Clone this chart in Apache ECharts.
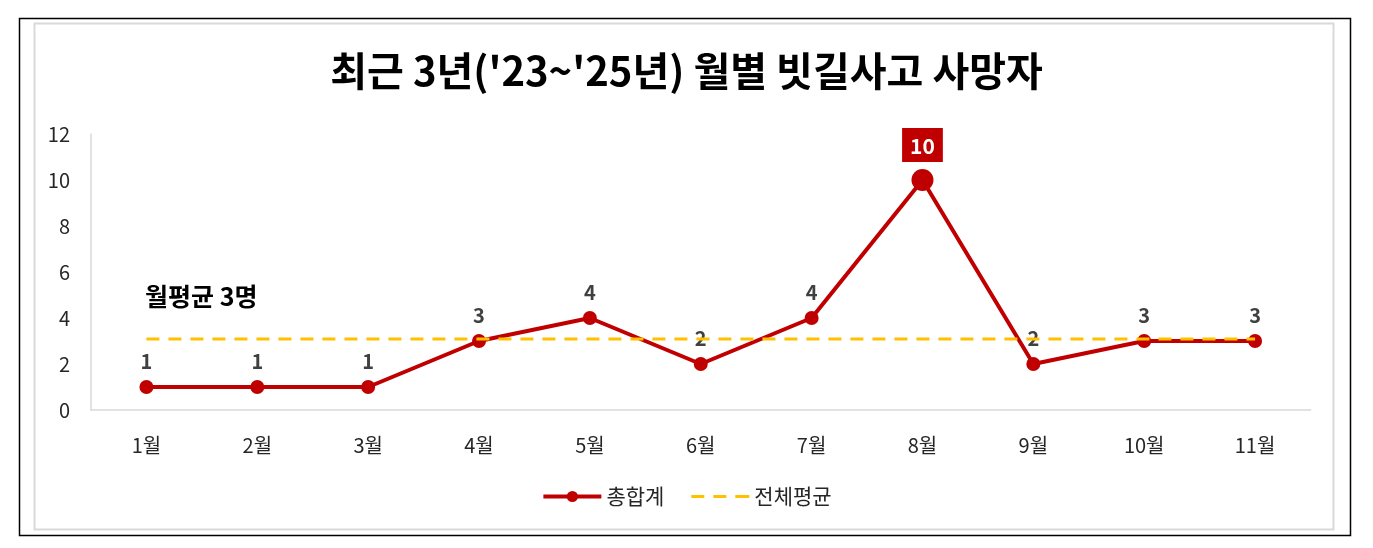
<!DOCTYPE html>
<html>
<head>
<meta charset="utf-8">
<script src="https://cdn.jsdelivr.net/npm/echarts@6/dist/echarts.min.js"></script>
<style>
html, body { margin: 0; padding: 0; background: #fff; }
#chart { width: 1373px; height: 548px; }
</style>
</head>
<body>
<div id="chart"></div>
<script>
var months = ['1월', '2월', '3월', '4월', '5월', '6월', '7월', '8월', '9월', '10월', '11월'];
var totalValues = [1, 1, 1, 3, 4, 2, 4, 10, 2, 3, 3];
var averageValues = [3.09, 3.09, 3.09, 3.09, 3.09, 3.09, 3.09, 3.09, 3.09, 3.09, 3.09];
var yTicks = [0, 2, 4, 6, 8, 10, 12];
var peakMonth = '8월';

var fontKr = '"Noto Sans CJK KR", "Noto Sans", sans-serif';

var totalData = totalValues.map(function (v, i) {
	if (months[i] !== peakMonth) return v;
	return {
		value: v,
		symbolSize: 22,
		label: {
			color: '#fff',
			backgroundColor: '#c00000',
			padding: [8, 8, 5, 8],
			fontSize: 21,
			distance: 7
		}
	};
});

echarts.init(document.querySelector('#chart')).setOption({
	backgroundColor: '#fff',
	animation: false,
	title: {
		text: "최근 3년('23~'25년) 월별 빗길사고 사망자",
		left: 'center',
		top: 46,
		textStyle: {
			fontFamily: fontKr,
			fontSize: 40,
			fontWeight: 'bold',
			color: '#000'
		}
	},
	graphic: [
		{ type: 'rect', shape: { x: 19.5, y: 18.5, width: 1331, height: 517 }, style: { fill: 'none', stroke: '#000', lineWidth: 1.5 }, silent: true },
		{ type: 'rect', shape: { x: 34.5, y: 23.5, width: 1299, height: 506 }, style: { fill: 'none', stroke: '#d9d9d9', lineWidth: 2 }, silent: true },
		{ type: 'text', left: 145, top: 284, style: { text: '월평균 3명', fontFamily: fontKr, fontSize: 25, fontWeight: 'bold', fill: '#000' } }
	],
	legend: {
		top: 481,
		left: 'center',
		itemWidth: 58,
		itemHeight: 14,
		itemGap: 27,
		textStyle: { fontFamily: fontKr, fontSize: 21, color: '#262626' },
		data: [
			{ name: '총합계', lineStyle: { width: 4 } },
			{ name: '전체평균', icon: 'path://M0,0h13v3H0z M22,0h13v3H22z M44,0h14v3H44z' }
		]
	},
	grid: { left: 91, right: 62.5, top: 134, bottom: 138 },
	xAxis: {
		type: 'category',
		data: months,
		boundaryGap: true,
		axisLine: { lineStyle: { color: '#d9d9d9', width: 1.5 } },
		axisTick: { show: false },
		axisLabel: { fontFamily: fontKr, fontSize: 20, color: '#262626', margin: 25 }
	},
	yAxis: {
		type: 'value',
		min: yTicks[0],
		max: yTicks[yTicks.length - 1],
		interval: 2,
		axisLine: { show: true, lineStyle: { color: '#d9d9d9', width: 1.5 } },
		axisTick: { show: false },
		splitLine: { show: false },
		axisLabel: { fontFamily: fontKr, fontSize: 20, color: '#262626', margin: 21 }
	},
	series: [
		{
			name: '총합계',
			type: 'line',
			data: totalData,
			symbol: 'circle',
			symbolSize: 14,
			z: 2,
			itemStyle: { color: '#c00000' },
			lineStyle: { color: '#c00000', width: 4 },
			label: {
				show: true,
				position: 'top',
				distance: 9,
				fontFamily: fontKr,
				fontSize: 20,
				fontWeight: 'bold',
				color: '#404040'
			}
		},
		{
			name: '전체평균',
			type: 'line',
			data: averageValues,
			symbol: 'none',
			z: 3,
			itemStyle: { color: '#ffc000' },
			lineStyle: { color: '#ffc000', width: 3, type: [13, 9] }
		}
	]
});
</script>
</body>
</html>
